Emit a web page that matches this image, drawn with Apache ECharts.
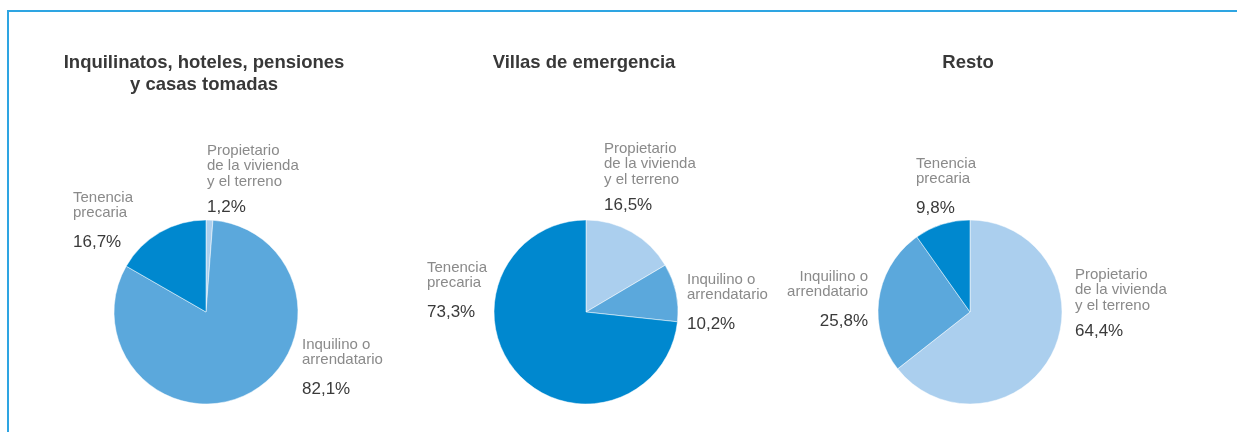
<!DOCTYPE html>
<html>
<head>
<meta charset="utf-8">
<script src="https://cdn.jsdelivr.net/npm/echarts@6/dist/echarts.min.js"></script>
<style>
  html, body { margin: 0; padding: 0; background: #fff; }
  #main { width: 1237px; height: 432px; }
</style>
</head>
<body>
<div id="main"></div>
<script type="text/javascript">
    // categorias (mismo orden en los tres graficos, sentido horario desde las 12)
    var categories = ['Propietario\nde la vivienda\ny el terreno', 'Inquilino o\narrendatario', 'Tenencia\nprecaria'];
    var titles = ['Inquilinatos, hoteles, pensiones\ny casas tomadas', 'Villas de emergencia', 'Resto'];
    var inquilinatos = [1.2, 82.1, 16.7];
    var villas = [16.5, 10.2, 73.3];
    var resto = [64.4, 25.8, 9.8];

    var colors = ['#abcfee', '#5ba8dc', '#0088cf'];
    var centers = [206, 586, 970];
    // posicion de las etiquetas: [x, y, align]
    var labelPos = [
        [[207, 143, 'left'], [302, 337, 'left'], [73, 190, 'left']],
        [[604, 141, 'left'], [687, 272, 'left'], [427, 260, 'left']],
        [[1075, 267, 'left'], [868, 269, 'right'], [916, 156, 'left']]
    ];
    var FONT = '"Liberation Sans", Arial, sans-serif';

    function fmt(v) {
        return v.toFixed(1).replace('.', ',') + '%';
    }

    function buildSeries(values, idx) {
        return {
            type: 'pie',
            center: [centers[idx], 312],
            radius: 92,
            startAngle: 90,
            clockwise: true,
            avoidLabelOverlap: false,
            silent: true,
            itemStyle: { borderColor: '#fff', borderWidth: 0.5 },
            labelLine: { show: false },
            label: {
                show: true,
                position: 'outside',
                fontFamily: FONT,
                formatter: function (p) {
                    var parts = p.name.split('\n');
                    var lines = parts.map(function (s) { return '{n|' + s + '}'; });
                    var vs = parts.length > 2 ? 'v3' : 'v2';
                    return lines.join('\n') + '\n{' + vs + '|' + fmt(p.value) + '}';
                },
                rich: {
                    n: { fontSize: 15, lineHeight: 15.5, color: '#8a8a8a', fontFamily: FONT },
                    v2: { fontSize: 17, lineHeight: 42, color: '#3a3a3a', fontFamily: FONT },
                    v3: { fontSize: 17, lineHeight: 35.5, color: '#3a3a3a', fontFamily: FONT }
                }
            },
            labelLayout: function (params) {
                var p = labelPos[idx][params.dataIndex];
                return { x: p[0], y: p[1], align: p[2], verticalAlign: 'top' };
            },
            data: values.map(function (v, i) {
                return { name: categories[i], value: v, itemStyle: { color: colors[i] } };
            })
        };
    }

    var myChart = echarts.init(document.getElementById('main'));
    myChart.setOption({
        animation: false,
        title: titles.map(function (t, i) {
            return {
                text: t,
                left: centers[i] - 2,
                top: 52,
                padding: 0,
                textAlign: 'center',
                textStyle: { fontSize: 18.5, fontWeight: 'bold', color: '#383838', lineHeight: 22, fontFamily: FONT }
            };
        }),
        graphic: [
            { type: 'line', shape: { x1: 7, y1: 11, x2: 1237, y2: 11 }, style: { stroke: '#2ea5e2', lineWidth: 2 } },
            { type: 'line', shape: { x1: 8, y1: 10, x2: 8, y2: 432 }, style: { stroke: '#2ea5e2', lineWidth: 2 } }
        ],
        series: [
            buildSeries(inquilinatos, 0),
            buildSeries(villas, 1),
            buildSeries(resto, 2)
        ]
    });
</script>
</body>
</html>
